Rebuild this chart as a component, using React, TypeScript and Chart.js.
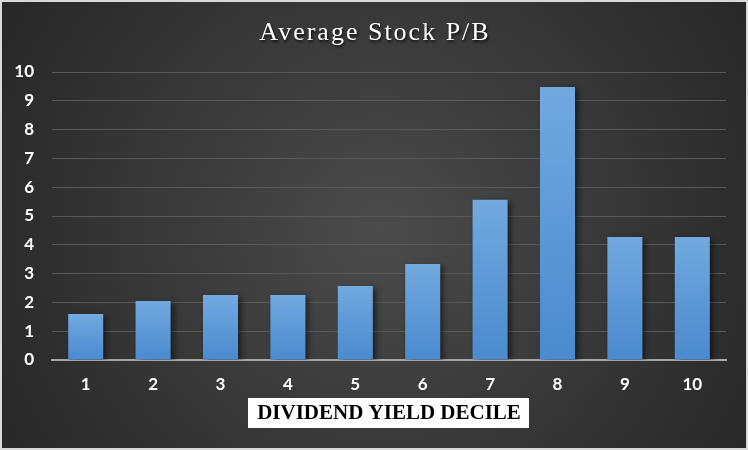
import React, { useEffect, useRef } from "react";
import { Chart, registerables } from "chart.js";

Chart.register(...registerables);

const categories = ["1", "2", "3", "4", "5", "6", "7", "8", "9", "10"];
const pbValues = [1.6, 2.05, 2.26, 2.26, 2.57, 3.33, 5.56, 9.48, 4.27, 4.27];
const yTicks = [0, 1, 2, 3, 4, 5, 6, 7, 8, 9, 10];
const chartTitle = "Average Stock P/B";
const xAxisTitle = "DIVIDEND YIELD DECILE";

const W = 748;
const H = 450;

const decorPlugin = {
  id: "decor",
  beforeDraw(chart: any) {
    const ctx = chart.ctx;
    ctx.save();
    ctx.fillStyle = "#d9d9d9";
    ctx.fillRect(0, 0, W, H);
    const g = ctx.createRadialGradient(380, 230, 0, 380, 230, 470);
    g.addColorStop(0, "#4b4b4b");
    g.addColorStop(1, "#242424");
    ctx.fillStyle = g;
    ctx.fillRect(2, 2, W - 4, H - 4);

    // title
    ctx.font = "26px 'Liberation Serif', serif";
    (ctx as any).letterSpacing = "2px";
    ctx.textAlign = "center";
    ctx.textBaseline = "alphabetic";
    ctx.shadowColor = "rgba(0,0,0,0.8)";
    ctx.shadowBlur = 3;
    ctx.shadowOffsetX = 1;
    ctx.shadowOffsetY = 2;
    ctx.fillStyle = "#ffffff";
    ctx.fillText(chartTitle, 375, 40);
    ctx.restore();

    // x axis title box
    ctx.save();
    ctx.font = "bold 21px 'Liberation Serif', serif";
    ctx.fillStyle = "#ffffff";
    ctx.fillRect(248, 398, 281, 30);
    ctx.fillStyle = "#000000";
    ctx.textAlign = "center";
    ctx.textBaseline = "middle";
    ctx.fillText(xAxisTitle, 389, 413.5);
    ctx.restore();
  },
  beforeDatasetDraw(chart: any) {
    const ctx = chart.ctx;
    ctx.save();
    ctx.shadowColor = "rgba(0,0,0,0.55)";
    ctx.shadowBlur = 6;
    ctx.shadowOffsetX = 3;
    ctx.shadowOffsetY = 2;
  },
  afterDatasetDraw(chart: any) {
    chart.ctx.restore();
  },
};

export default function App() {
  const ref = useRef<HTMLCanvasElement | null>(null);
  useEffect(() => {
    if (!ref.current) return;
    const chart = new Chart(ref.current, {
      type: "bar",
      data: {
        labels: categories,
        datasets: [
          {
            data: pbValues,
            barPercentage: 0.52,
            categoryPercentage: 1,
            backgroundColor: (c: any) => {
              const ch = c.chart;
              const ys = ch.scales && ch.scales.y;
              if (!ys || c.raw === undefined) return "#5b9bd5";
              const top = ys.getPixelForValue(c.raw);
              const bot = ys.getPixelForValue(0);
              if (!isFinite(top) || !isFinite(bot) || top === bot) return "#5b9bd5";
              const g = ch.ctx.createLinearGradient(0, top, 0, bot);
              g.addColorStop(0, "#72a9df");
              g.addColorStop(1, "#4a8ace");
              return g;
            },
            borderWidth: 0,
          },
        ],
      },
      options: {
        animation: false,
        responsive: false,
        maintainAspectRatio: false,
        layout: { padding: { left: 0, right: 22, top: 72, bottom: 0 } },
        plugins: {
          legend: { display: false },
          tooltip: { enabled: false },
          title: { display: false },
        },
        scales: {
          x: {
            afterFit: (s: any) => {
              s.height = 90;
            },
            grid: { display: false },
            border: { display: true, color: "#a6a6a6", width: 2 },
            ticks: {
              color: "#ffffff",
              font: { family: "Lato", weight: "bold", size: 17 },
              padding: 6,
            },
          },
          y: {
            min: 0,
            max: 10,
            afterFit: (s: any) => {
              s.width = 52;
            },
            afterBuildTicks: (s: any) => {
              s.ticks = yTicks.map((v) => ({ value: v }));
            },
            grid: { color: "#585858", lineWidth: 1, drawTicks: false },
            border: { display: false },
            ticks: {
              color: "#ffffff",
              font: { family: "Lato", weight: "bold", size: 17 },
              padding: 18,
            },
          },
        },
      },
      plugins: [decorPlugin],
    });
    return () => chart.destroy();
  }, []);
  return (
    <div style={{ position: "fixed", left: 0, top: 0, width: W, height: H }}>
      <canvas ref={ref} width={W} height={H} style={{ width: W, height: H, display: "block" }} />
    </div>
  );
}
